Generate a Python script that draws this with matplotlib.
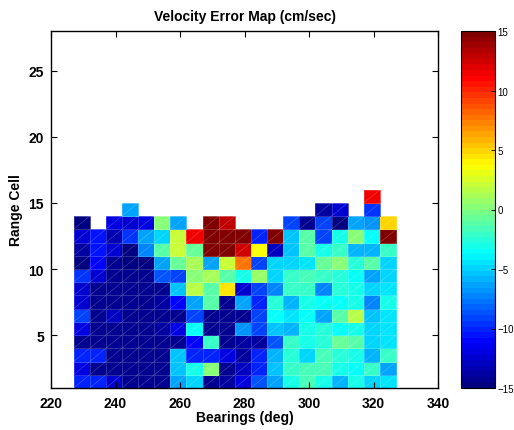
import numpy as np
import matplotlib
matplotlib.use("Agg")
import matplotlib.pyplot as plt
from matplotlib.colors import LinearSegmentedColormap
from matplotlib.collections import LineCollection

plt.rcParams['font.family'] = ['Liberation Sans', 'DejaVu Sans']

nan = np.nan

# Bearing cell edges (deg) and range-cell edges
bearing_edges = np.arange(227, 328, 5)          # 21 edges -> 20 bearing bins
range_edges = np.arange(1, 17)                  # 16 edges -> 15 range cells

# Velocity error (cm/sec); one list per range cell (1 = nearest), one value per bearing bin
rc01 = [-10, -10, -12.5, -14.5, -14.5, -14.5, -6.5, -5, -14.5, -14, -12, -8.5, -6.5, -3, -1.5, -3, -6, -3, -5, -4.5]
rc02 = [-12, -14.5, -14.5, -14.5, -14.5, -14.5, -5.6, -3, 0, -14.5, -13, -10, -5.5, -2, -1.5, -1.5, -3, -3.7, -2, -6.3]
rc03 = [-10, -10, -14.5, -14.5, -14.5, -14.5, -5.6, -10, -10, -12, -13.8, -10, -6, -2.5, -5, -1.5, -2.5, -3, -6, -2]
rc04 = [-14.5, -14.5, -14.5, -14.5, -14.5, -14.5, -14.5, -11, -2, -14.5, -13.8, -13.8, -8.5, -2, -3, -2.5, -0.5, -1, -5, -4.5]
rc05 = [-12, -14.5, -14.5, -14.5, -14.5, -13.8, -12, -3.7, -14.5, -14.5, -7, -9, -5.6, -6, -3, -2.7, -3.7, -3, -5, -4.5]
rc06 = [-9, -14.5, -13, -14.5, -14.5, -14.5, -14.5, -9, -14.5, -14.5, -14.5, -9, -3.7, -4.5, -3.7, -6.5, -1.4, 1.5, -5.5, -4.5]
rc07 = [-12.5, -14.5, -14.5, -14.5, -14.5, -13.8, -11.2, -6.5, -1.4, -14.5, -6.3, -10, -2.5, -6, -3, -3.7, -3.7, -3, -7.5, -3]
rc08 = [-12.5, -14.5, -14.5, -14.5, -14.5, -14.5, -5.6, 1.5, -1.4, 4.6, -12.5, -9, -7.5, -2, -2, -7.5, -2.5, -3, -5, -4.5]
rc09 = [-9.5, -12.5, -14.5, -14.5, -14.5, -8.5, -9, 0, 1, -1, -3, 0.5, -5, -2, -1.5, -2, -2.5, -3.7, -6.5, -5]
rc10 = [-15, -11, -14.5, -15, -15, -6.5, -0.5, 1, -6.5, 2, 7.5, -9, -5, -5, -4.5, -0.5, 0, -2.5, -1.4, -4.8]
rc11 = [-14, -10.5, -12.5, -15, -7.5, -1.4, 2, -0.5, 15, 15, 12.2, 3.5, -13, -5.6, -1.4, -3, -2, -6, -6, -2]
rc12 = [-12.5, -10.5, -13.5, -9.5, -6.5, -4.7, 2, 11.7, 15, 15, 15, -10, 15, -5.5, -1.4, -9, -3, 0, -3.7, 15]
rc13 = [-15, nan, -12, -12.5, -12, 0, -6.5, nan, 15, 13, nan, nan, nan, -9, -14.5, -9, -15, -6.5, -7, 5]
rc14 = [nan, nan, nan, -6.5, nan, nan, nan, nan, nan, nan, nan, nan, nan, nan, nan, -14, -12.4, nan, -9.5, nan]
rc15 = [nan, nan, nan, nan, nan, nan, nan, nan, nan, nan, nan, nan, nan, nan, nan, nan, nan, nan, 11.7, nan]

vel_err = np.ma.masked_invalid(np.array([rc01, rc02, rc03, rc04, rc05, rc06, rc07, rc08,
                                         rc09, rc10, rc11, rc12, rc13, rc14, rc15]))

# MATLAB-style jet with 64 levels
jet64 = LinearSegmentedColormap.from_list(
    "jet64",
    [(0.0, (0, 0, 0.5)), (0.125, (0, 0, 1)), (0.375, (0, 1, 1)),
     (0.625, (1, 1, 0)), (0.875, (1, 0, 0)), (1.0, (0.5, 0, 0))],
    N=64)

fig = plt.figure(figsize=(5.14, 4.31), dpi=100)
ax = fig.add_axes([51 / 514, 42 / 431, 387 / 514, 357 / 431])
cax = fig.add_axes([461 / 514, 42 / 431, 34 / 514, 357 / 431])

mesh = ax.pcolormesh(bearing_edges, range_edges, vel_err, cmap=jet64,
                     vmin=-15, vmax=15, edgecolors=(1, 1, 1, 0.18), linewidth=0.6)

# faint facet diagonals across each filled cell
segs = []
for i in range(vel_err.shape[0]):
    for j in range(vel_err.shape[1]):
        if not np.ma.is_masked(vel_err[i, j]):
            segs.append([(bearing_edges[j], range_edges[i]),
                         (bearing_edges[j + 1], range_edges[i + 1])])
ax.add_collection(LineCollection(segs, colors=[(1, 1, 1, 0.22)], linewidths=0.5))

ax.set_xlim(220, 340)
ax.set_ylim(1, 28)
ax.set_xticks(np.arange(220, 341, 20))
ax.set_yticks(np.arange(5, 26, 5))
ax.tick_params(direction='in', length=4, width=0.8, top=True, right=True,
               labelsize=10)
ax.tick_params(axis='x', pad=6)
ax.tick_params(axis='y', pad=5)
for lab in ax.get_xticklabels() + ax.get_yticklabels():
    lab.set_fontweight('bold')
for sp in ax.spines.values():
    sp.set_linewidth(1.0)

ax.set_title("Velocity Error Map (cm/sec)", fontsize=10, fontweight='bold', pad=8)
ax.set_xlabel("Bearings (deg)", fontsize=10, fontweight='bold', labelpad=0)
ax.set_ylabel("Range Cell", fontsize=10, fontweight='bold', labelpad=4)

cb = fig.colorbar(mesh, cax=cax, ticks=np.arange(-15, 16, 5))
cb.ax.tick_params(direction='in', length=3, width=0.6, labelsize=7, pad=2)
cb.outline.set_linewidth(0.8)

fig.savefig("out.png", dpi=100)
